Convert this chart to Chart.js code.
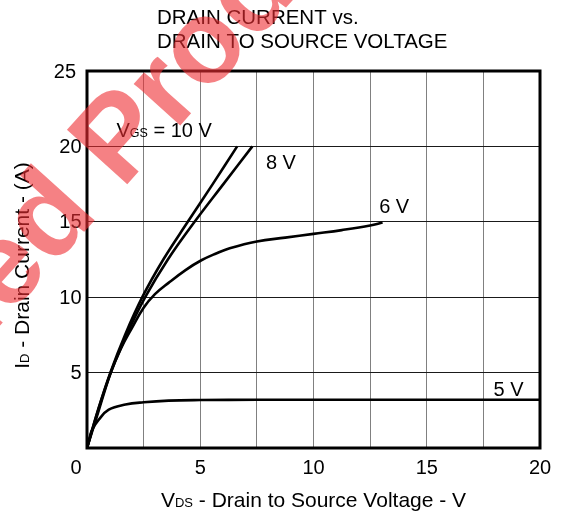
<!DOCTYPE html>
<html>
<head>
<meta charset="utf-8">
<script src="https://cdn.jsdelivr.net/npm/chart.js@4/dist/chart.umd.min.js"></script>
<style>
  html, body { margin: 0; padding: 0; background: #fff; }
  #wrap { width: 563px; height: 522px; }
</style>
</head>
<body>
<div id="wrap"><canvas id="c" width="563" height="522"></canvas></div>
<script>
// ---- Data ----
const titleLines = ['DRAIN CURRENT vs.', 'DRAIN TO SOURCE VOLTAGE'];
const xTickValues = [0, 5, 10, 15, 20];
const xTickLabels = ['0', '5', '10', '15', '20'];
const yTickValues = [5, 10, 15, 20, 25];
const yTickLabels = ['5', '10', '15', '20', '25'];

// VGS = 10 V
const vds10 = [0, 0.48, 1.03, 1.68, 2.44, 3.37, 4.45, 5.55, 6.63];
const id10  = [0, 2.5, 5.0, 7.5, 10.0, 12.5, 15.0, 17.5, 20.0];
// VGS = 8 V
const vds8 = [0, 0.49, 1.05, 1.75, 2.57, 3.57, 4.75, 6.02, 7.3];
const id8  = [0, 2.5, 5.0, 7.5, 10.0, 12.5, 15.0, 17.5, 20.0];
// VGS = 6 V
const vds6 = [0, 0.5, 1.05, 1.5, 2.0, 2.5, 3.0, 3.6, 4.35, 5.05, 5.7, 6.3, 7.5, 8.75, 10, 11.25, 12.5, 13.05];
const id6  = [0, 2.4, 5.0, 6.6, 8.0, 9.3, 10.2, 10.95, 11.8, 12.45, 12.9, 13.25, 13.7, 13.95, 14.2, 14.45, 14.75, 14.95];
// VGS = 5 V
const vds5 = [0, 0.1, 0.23, 0.52, 0.96, 1.7, 2.5, 3.6, 5, 7.5, 10, 15, 20];
const id5  = [0, 0.6, 1.22, 1.88, 2.54, 2.88, 3.03, 3.14, 3.18, 3.2, 3.2, 3.2, 3.2];

const seriesLabels = ['10 V', '8 V', '6 V', '5 V'];

// curve annotations: [main, subscript, rest, x value, y value]
const curveNotes = [
  ['V', 'GS', ' = 10 V', 1.3, 20.6],
  ['8 V', '', '', 7.9, 18.5],
  ['6 V', '', '', 12.9, 15.6],
  ['5 V', '', '', 17.95, 3.45]
];

const watermarkText = 'Discontinued Product';

// ---- helpers ----
function pts(xs, ys) { return xs.map((x, i) => ({ x: x, y: ys[i] })); }

const FONT = '"Liberation Sans", Arial, Helvetica, sans-serif';

function drawSubText(ctx, parts, x, y, align) {
  let total = 0;
  parts.forEach(p => { ctx.font = p.s + 'px ' + FONT; p.w = ctx.measureText(p.t).width; total += p.w; });
  let cx = x;
  if (align === 'center') cx = x - total / 2;
  else if (align === 'right') cx = x - total;
  ctx.textAlign = 'left';
  ctx.textBaseline = 'alphabetic';
  parts.forEach(p => { ctx.font = p.s + 'px ' + FONT; ctx.fillText(p.t, cx, y); cx += p.w; });
}

const decorPlugin = {
  id: 'decor',
  beforeDraw(chart) {
    const ctx = chart.ctx;
    ctx.save();
    ctx.fillStyle = '#ffffff';
    ctx.fillRect(0, 0, chart.width, chart.height);
    ctx.restore();
  },
  afterDraw(chart) {
    const ctx = chart.ctx;
    const a = chart.chartArea;
    const xs = chart.scales.x, ys = chart.scales.y;
    ctx.save();
    // frame
    ctx.strokeStyle = '#000';
    ctx.lineWidth = 3;
    ctx.strokeRect(a.left, a.top, a.right - a.left, a.bottom - a.top);

    ctx.fillStyle = '#000';
    // x tick labels
    ctx.font = '20px ' + FONT;
    ctx.textBaseline = 'middle';
    ctx.textAlign = 'center';
    xTickValues.forEach((v, i) => {
      let px = xs.getPixelForValue(v);
      if (v === 0) px -= 11;
      ctx.fillText(xTickLabels[i], px, 468);
    });
    // y tick labels
    ctx.textAlign = 'right';
    yTickValues.forEach((v, i) => {
      let right = 81.5;
      if (v === 25) right = 76;
      ctx.fillText(yTickLabels[i], right, ys.getPixelForValue(v) + 1);
    });

    // chart title
    ctx.font = '20.5px ' + FONT;
    ctx.textAlign = 'left';
    ctx.textBaseline = 'alphabetic';
    ctx.fillText(titleLines[0], 157, 24);
    ctx.fillText(titleLines[1], 157, 47.5);

    // x axis title
    drawSubText(ctx, [{ t: 'V', s: 21 }, { t: 'DS', s: 13 }, { t: ' - Drain to Source Voltage - V', s: 21 }],
      (a.left + a.right) / 2, 507, 'center');
    // y axis title
    ctx.save();
    ctx.translate(29, (a.top + a.bottom) / 2 + 6);
    ctx.rotate(-Math.PI / 2);
    drawSubText(ctx, [{ t: 'I', s: 21 }, { t: 'D', s: 13 }, { t: ' - Drain Current - (A)', s: 21 }], 0, 0, 'center');
    ctx.restore();

    // curve notes
    curveNotes.forEach(n => {
      const px = xs.getPixelForValue(n[3]);
      const py = ys.getPixelForValue(n[4]);
      const parts = [{ t: n[0], s: 20 }];
      if (n[1]) parts.push({ t: n[1], s: 12.5 });
      if (n[2]) parts.push({ t: n[2], s: 20 });
      drawSubText(ctx, parts, px, py, 'left');
    });

    // watermark
    const th = -48 * Math.PI / 180;
    ctx.font = 'bold 118px ' + FONT;
    const wPre = ctx.measureText('Discontinued ').width;
    ctx.translate(122, 190);
    ctx.rotate(th);
    ctx.fillStyle = 'rgba(238, 45, 50, 0.6)';
    ctx.textAlign = 'left';
    ctx.textBaseline = 'alphabetic';
    ctx.fillText(watermarkText, -wPre, 0);
    ctx.restore();
  }
};

const lineStyle = {
  showLine: true,
  borderColor: '#000',
  borderWidth: 2.6,
  pointRadius: 0,
  pointHoverRadius: 0,
  fill: false,
  tension: 0.4
};

new Chart(document.getElementById('c'), {
  type: 'scatter',
  data: {
    datasets: [
      Object.assign({ label: seriesLabels[0], data: pts(vds10, id10) }, lineStyle),
      Object.assign({ label: seriesLabels[1], data: pts(vds8, id8) }, lineStyle),
      Object.assign({ label: seriesLabels[2], data: pts(vds6, id6) }, lineStyle),
      Object.assign({ label: seriesLabels[3], data: pts(vds5, id5) }, lineStyle)
    ]
  },
  options: {
    responsive: false,
    animation: false,
    devicePixelRatio: 1,
    layout: { padding: { left: 87, top: 71, right: 23, bottom: 74 } },
    plugins: { legend: { display: false }, tooltip: { enabled: false }, title: { display: false } },
    scales: {
      x: {
        type: 'linear', min: 0, max: 20,
        ticks: { stepSize: 2.5, display: false },
        grid: { color: '#808080', lineWidth: 1, drawTicks: false },
        border: { display: false }
      },
      y: {
        type: 'linear', min: 0, max: 25,
        ticks: { stepSize: 5, display: false },
        grid: { color: '#1a1a1a', lineWidth: 1, drawTicks: false },
        border: { display: false }
      }
    }
  },
  plugins: [decorPlugin]
});
</script>
</body>
</html>
